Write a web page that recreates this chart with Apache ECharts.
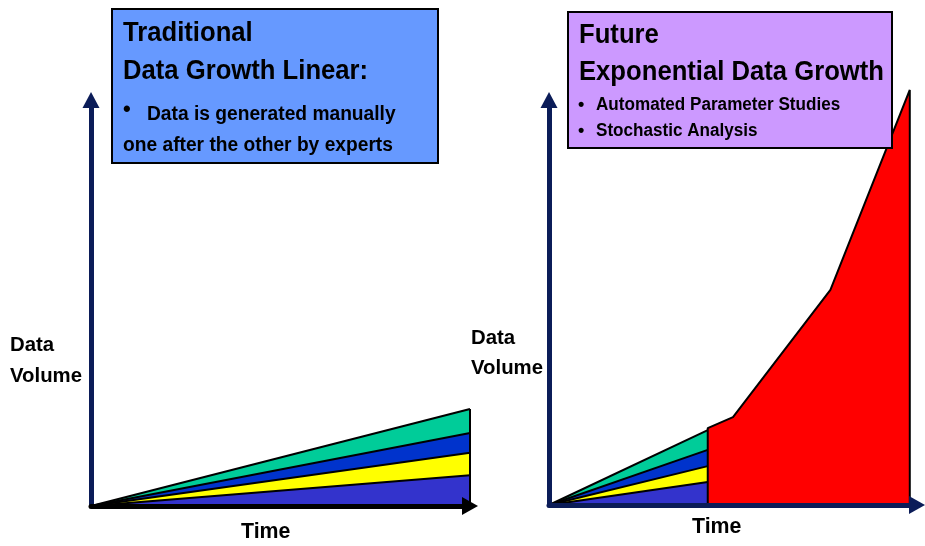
<!DOCTYPE html>
<html>
<head>
<meta charset="utf-8">
<script src="https://cdn.jsdelivr.net/npm/echarts@6/dist/echarts.min.js"></script>
<style>
  html, body { margin: 0; padding: 0; background: #fff; }
  #main { width: 925px; height: 546px; }
</style>
</head>
<body>
<div id="main"></div>
<script>
// left panel: linear growth, layers from bottom to top
const leftTime = [0, 10];
const leftPurple = [0, 7.6];
const leftYellow = [0, 5.5];
const leftBlue = [0, 4.9];
const leftGreen = [0, 5.9];

// right panel: same linear start, then exponential part
const rightTime = [0, 4.4];
const rightPurple = [0, 5.7];
const rightYellow = [0, 3.9];
const rightBlue = [0, 4.0];
const rightGreen = [0, 4.9];
const redTime = [4.4, 5.1, 7.8, 10];
const redValues = [19.0, 21.7, 53.1, 102.5];

const navy = '#0b1c58';
const font = '"Liberation Sans", Arial, sans-serif';
const layerColors = ['#3333cc', '#ffff00', '#0033cc', '#00cc99'];

const toPairs = (xs, ys) => xs.map((x, i) => [x, ys[i]]);

// cumulative sums per layer (stack done by hand, value x axis)
const cumulate = (layers) => {
  let acc = layers[0].map(() => 0);
  return layers.map(l => {
    acc = acc.map((v, i) => v + l[i]);
    return acc.slice();
  });
};

// the top layer is drawn first so the lower ones sit on top of it
const layerSeries = (xs, layers, gridIdx) => {
  const tops = cumulate(layers);
  return tops.map((ys, k) => ({
    name: 'layer' + k,
    type: 'line',
    xAxisIndex: gridIdx,
    yAxisIndex: gridIdx,
    z: 2 + (layers.length - k) * 0.1,
    data: toPairs(xs, ys),
    showSymbol: false,
    lineStyle: { color: '#000', width: 2 },
    areaStyle: { color: layerColors[k], opacity: 1 },
    silent: true
  })).reverse();
};

const leftLayers = [leftPurple, leftYellow, leftBlue, leftGreen];
const rightLayers = [rightPurple, rightYellow, rightBlue, rightGreen];
const leftTotal = cumulate(leftLayers)[3];
const lastT = leftTime[leftTime.length - 1];

const redData = [[redTime[0], 0]].concat(toPairs(redTime, redValues), [[redTime[redTime.length - 1], 0]]);

const axisY = (gridIdx, color) => ({
  type: 'value', gridIndex: gridIdx, min: 0, max: 100, z: 5,
  axisLine: { show: true, symbol: ['none', 'triangle'], symbolSize: [17, 16], lineStyle: { color: color, width: 5 } },
  axisTick: { show: false }, axisLabel: { show: false }, splitLine: { show: false }
});

const axisX = (gridIdx, max, color) => ({
  type: 'value', gridIndex: gridIdx, min: 0, max: max, z: 5,
  axisLine: { show: true, symbol: ['none', 'triangle'], symbolSize: [18, 16], lineStyle: { color: color, width: 5 } },
  axisTick: { show: false }, axisLabel: { show: false }, splitLine: { show: false }
});

// slightly condensed bold text, like the original slide
const txt = (text, x, y, size, sx) => ({
  type: 'text', z: 20, x: x, y: y, scaleX: sx || 1,
  style: { text: text, x: 0, y: 0, fill: '#000', font: 'bold ' + size + 'px ' + font, verticalAlign: 'middle' }
});

const myChart = echarts.init(document.getElementById('main'));

const option = {
  animation: false,
  backgroundColor: '#fff',
  grid: [
    { left: 91, right: 455, top: 100, bottom: 40 },
    { left: 549, right: 8, top: 100, bottom: 41 }
  ],
  xAxis: [axisX(0, 10, '#000'), axisX(1, 10.2, navy)],
  yAxis: [axisY(0, navy), axisY(1, navy)],
  series: layerSeries(leftTime, leftLayers, 0).concat([
    {
      name: 'Edge', type: 'line', xAxisIndex: 0, yAxisIndex: 0, z: 3,
      data: [[lastT, 0], [lastT, leftTotal[leftTotal.length - 1]]],
      showSymbol: false, lineStyle: { color: '#000', width: 2 }, silent: true
    }
  ], layerSeries(rightTime, rightLayers, 1), [
    {
      name: 'Exponential', type: 'line', xAxisIndex: 1, yAxisIndex: 1, z: 3,
      data: redData, clip: false,
      showSymbol: false,
      lineStyle: { color: '#000', width: 2 },
      areaStyle: { color: '#ff0000', opacity: 1 },
      silent: true
    }
  ]),
  graphic: [
    { type: 'rect', z: 15, shape: { x: 112, y: 9, width: 326, height: 154 },
      style: { fill: '#6699ff', stroke: '#000', lineWidth: 2 } },
    txt('Traditional', 123, 34, 27, 0.95),
    txt('Data Growth Linear:', 123, 72, 27, 0.95),
    txt('\u2022', 123, 110, 22),
    txt('Data is generated manually', 147, 114, 20, 0.96),
    txt('one after the other by experts', 123, 145, 20, 0.96),

    { type: 'rect', z: 15, shape: { x: 568, y: 12, width: 324, height: 136 },
      style: { fill: '#cc99ff', stroke: '#000', lineWidth: 2 } },
    txt('Future', 579, 36, 27, 0.95),
    txt('Exponential Data Growth', 579, 73, 27, 0.95),
    txt('\u2022', 578, 105, 18),
    txt('Automated Parameter Studies', 596, 105, 18, 0.95),
    txt('\u2022', 578, 131, 18),
    txt('Stochastic Analysis', 596, 131, 18, 0.95),

    txt('Data', 10, 345, 21, 0.97),
    txt('Volume', 10, 376, 21, 0.97),
    txt('Time', 241, 532, 22, 0.97),
    txt('Data', 471, 338, 21, 0.97),
    txt('Volume', 471, 368, 21, 0.97),
    txt('Time', 692, 527, 22, 0.97)
  ]
};

myChart.setOption(option);
</script>
</body>
</html>
